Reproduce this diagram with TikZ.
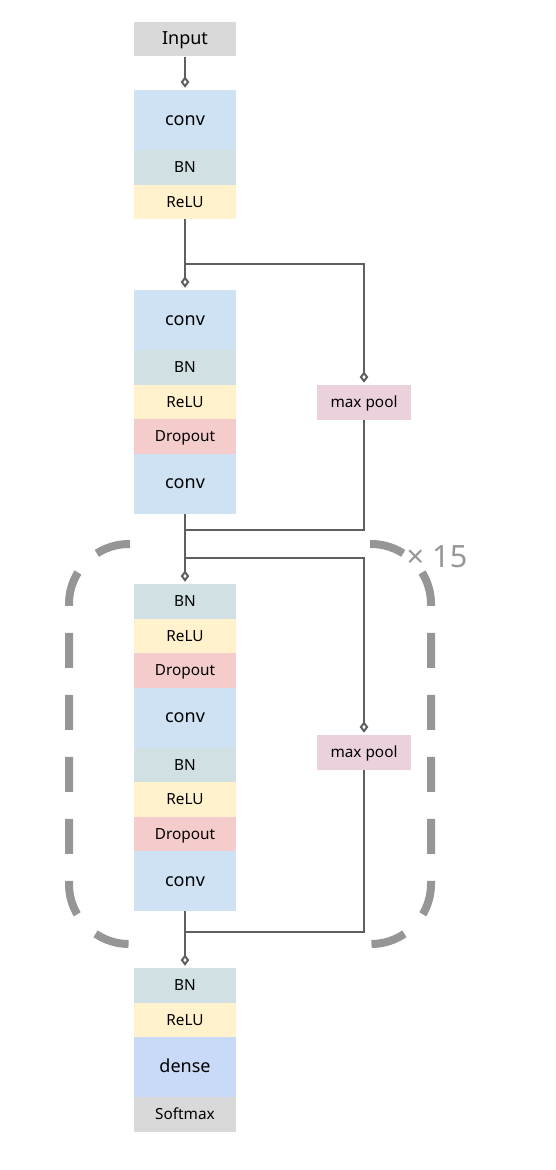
\documentclass[tikz,border=0pt]{standalone}
\usepackage{fontspec}
\setmainfont{Noto Sans}
\usetikzlibrary{arrows.meta}
\definecolor{greybox}{RGB}{217,217,217}
\definecolor{convblue}{RGB}{207,226,243}
\definecolor{bnteal}{RGB}{208,224,227}
\definecolor{reluyellow}{RGB}{255,242,204}
\definecolor{droppink}{RGB}{244,204,204}
\definecolor{poolmauve}{RGB}{234,209,220}
\definecolor{denseblue}{RGB}{201,218,248}
\definecolor{wiregrey}{RGB}{95,95,95}
\definecolor{framegrey}{RGB}{150,150,150}
\tikzset{
  layer/.style={rectangle,inner sep=0pt,minimum width=76.5pt,text height=0.82em,text depth=0pt},
  lowbox/.style={layer,minimum height=25.875pt,font=\fontsize{11.5}{13}\selectfont},
  tallbox/.style={layer,minimum height=45pt,font=\fontsize{13.5}{16}\selectfont},
  inputbox/.style={layer,minimum height=25.875pt,fill=greybox,font=\fontsize{13.5}{16}\selectfont},
  convbox/.style={tallbox,fill=convblue},
  bnbox/.style={lowbox,fill=bnteal},
  relubox/.style={lowbox,fill=reluyellow},
  dropbox/.style={lowbox,fill=droppink},
  densebox/.style={tallbox,fill=denseblue},
  softbox/.style={lowbox,fill=greybox},
  poolbox/.style={lowbox,fill=poolmauve,minimum width=70.5pt},
  wire/.style={draw=wiregrey,line width=1.9pt},
  tip/.style={-{Diamond[open,length=8.5pt,width=6.5pt,line width=1.5pt]},shorten >=1.5pt},
  frame/.style={draw=framegrey,line width=6pt,rounded corners=45pt,dash pattern=on 26.25pt off 20.25pt}
}
\newcommand{\layer}[4]{\node[#2] (#1) at (185,#3) {#4};}
\begin{document}
\begin{tikzpicture}[x=0.75pt,y=-0.75pt]
    \useasboundingbox (0,0) rectangle (556,1170);
    % first block
    \layer{input}{inputbox}{39.25}{Input}
    \layer{conv1}{convbox}{120}{conv}    \layer{bn1}{bnbox}{167.25}{BN}
    \layer{relu1}{relubox}{201.75}{ReLU}
    % second block
    \layer{conv2}{convbox}{320}{conv}    \layer{bn2}{bnbox}{367.25}{BN}
    \layer{relu2}{relubox}{401.75}{ReLU} \layer{drop2}{dropbox}{436.25}{Dropout}
    \layer{conv3}{convbox}{483.5}{conv}
    \node[poolbox] (pool1) at (364,402.25) {max pool};
    % repeated block
    \layer{bn3}{bnbox}{601.25}{BN}       \layer{relu3}{relubox}{635.75}{ReLU}
    \layer{drop3}{dropbox}{670.25}{Dropout}
    \layer{conv4}{convbox}{717.5}{conv}  \layer{bn4}{bnbox}{764.75}{BN}
    \layer{relu4}{relubox}{799.25}{ReLU} \layer{drop4}{dropbox}{833.75}{Dropout}
    \layer{conv5}{convbox}{881}{conv}
    \node[poolbox] (pool2) at (364,752.25) {max pool};
    % output
    \layer{bn5}{bnbox}{985.25}{BN}       \layer{relu5}{relubox}{1019.75}{ReLU}
    \layer{dense}{densebox}{1067}{dense} \layer{soft}{softbox}{1114.25}{Softmax}
    % split and merge points
    \coordinate (s1) at (185,264); \coordinate (m1) at (185,530);
    \coordinate (s2) at (185,558); \coordinate (m2) at (185,932);
    \draw[wire,tip] (input) -- (conv1);
    \draw[wire,tip] (relu1) -- (conv2);
    \draw[wire,tip] (s1) -| (pool1);
    \draw[wire] (pool1) |- (m1);
    \draw[wire,tip] (conv3) -- (bn3);
    \draw[wire,tip] (s2) -| (pool2);
    \draw[wire] (pool2) |- (m2);
    \draw[wire,tip] (conv5) -- (bn5);
    % repeat frame
    \draw[frame] (130,544) -- (69,544) -- (69,944) -- (130,944);
    \draw[frame] (370,544) -- (431,544) -- (431,944) -- (370,944);
    \node[text=framegrey,font=\fontsize{23}{26}\selectfont] (times) at (437,557) {× 15};
\end{tikzpicture}
\end{document}
